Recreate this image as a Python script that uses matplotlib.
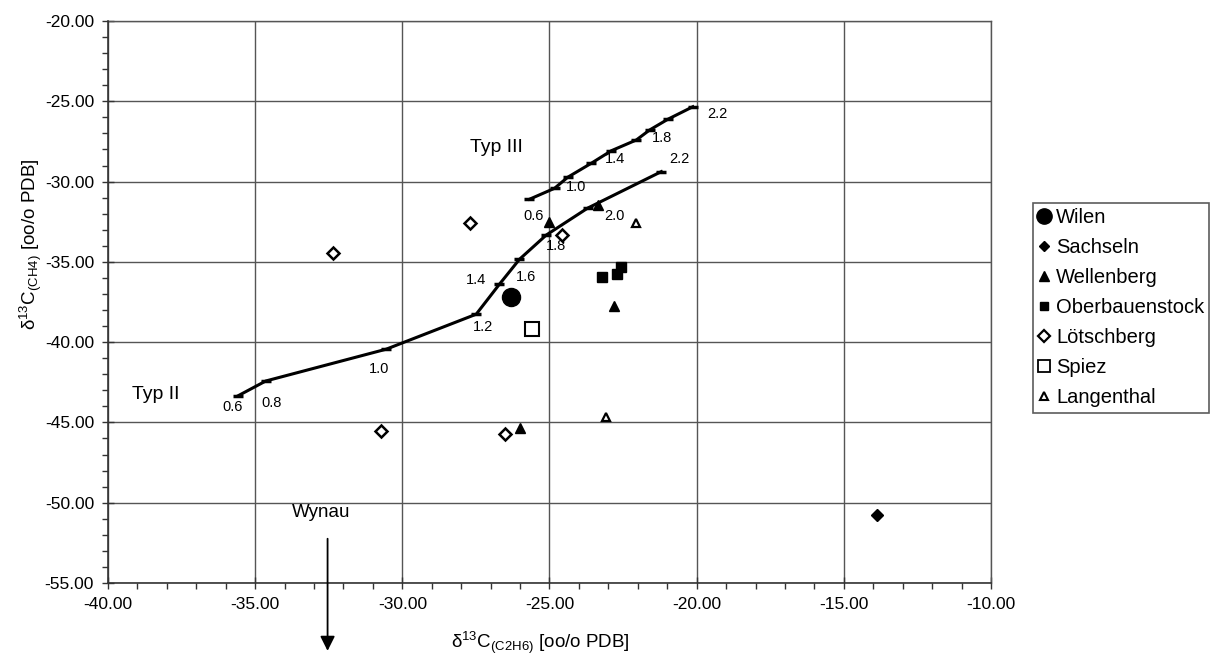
import matplotlib
matplotlib.use("Agg")
import matplotlib.pyplot as plt
from matplotlib.lines import Line2D

plt.rcParams['font.family'] = ['Liberation Sans', 'DejaVu Sans']
plt.rcParams['mathtext.fontset'] = 'custom'
plt.rcParams['mathtext.rm'] = 'Liberation Sans'
plt.rcParams['mathtext.it'] = 'Liberation Sans:italic'
plt.rcParams['mathtext.bf'] = 'Liberation Sans:bold'

# ---- data ----
# Typ III maturity curve (upper)
typ3_x = [-25.68, -24.83, -24.38, -23.58, -22.90, -22.05, -21.60, -20.98, -20.13]
typ3_y = [-31.10, -30.42, -29.73, -28.86, -28.08, -27.41, -26.79, -26.12, -25.34]
typ3_lbl = ['0.6', '', '1.0', '', '1.4', '', '1.8', '', '2.2']
# Typ II maturity curve (lower)
typ2_x = [-35.57, -34.64, -30.55, -27.49, -26.70, -26.02, -25.11, -23.70, -21.20]
typ2_y = [-43.33, -42.42, -40.44, -38.26, -36.39, -34.84, -33.33, -31.65, -29.38]
typ2_lbl = ['0.6', '0.8', '1.0', '1.2', '1.4', '1.6', '1.8', '2.0', '2.2']

wilen_x = [-26.3]; wilen_y = [-37.2]
sachseln_x = [-13.87]; sachseln_y = [-50.76]
wellenberg_x = [-26.0, -25.0, -22.8, -23.36]
wellenberg_y = [-45.36, -32.53, -37.75, -31.46]
oberbauen_x = [-23.21, -22.70, -22.56]
oberbauen_y = [-35.92, -35.75, -35.34]
loetsch_x = [-27.69, -24.58, -32.34, -30.71, -26.50]
loetsch_y = [-32.56, -33.32, -34.43, -45.53, -45.73]
spiez_x = [-25.60]; spiez_y = [-39.2]
langenthal_x = [-22.05, -23.07]
langenthal_y = [-32.58, -44.68]

W, H = 1212, 657
fig = plt.figure(figsize=(W / 100, H / 100), dpi=100)
ax = fig.add_axes([108 / W, 1 - 583 / H, (991 - 108) / W, (583 - 21) / H])

ax.set_xlim(-40, -10)
ax.set_ylim(-55, -20)
ax.set_xticks(range(-40, -9, 5))
ax.set_yticks(range(-55, -19, 5))
ax.set_xticks(range(-40, -9, 1), minor=True)
ax.set_yticks(range(-55, -19, 1), minor=True)
ax.set_xticklabels([f'{v:.2f}' for v in range(-40, -9, 5)])
ax.set_yticklabels([f'{v:.2f}' for v in range(-55, -19, 5)])
ax.tick_params(which='major', direction='inout', length=8, width=1, labelsize=12.5, color='#333333', pad=6)
ax.tick_params(which='minor', direction='out', length=4, width=1, color='#333333')
ax.grid(True, which='major', color='#555555', linewidth=1.0)
for s in ['top', 'right']:
    ax.spines[s].set_visible(False)
for s in ['left', 'bottom']:
    ax.spines[s].set_color('#333333')
    ax.spines[s].set_linewidth(1.2)

# gridlines at the upper / right edges
ax.axhline(-20, color='#555555', lw=1.0, clip_on=False)
ax.axvline(-10, color='#555555', lw=1.0, clip_on=False)

# curves
ax.plot(typ3_x, typ3_y, color='black', lw=2.2, marker='_', ms=7, mew=2.5, zorder=3)
ax.plot(typ2_x, typ2_y, color='black', lw=2.2, marker='_', ms=7, mew=2.5, zorder=3)

off3 = {'0.6': (3, -12), '1.0': (6, -7), '1.4': (3, -6), '1.8': (9, -6), '2.2': (18, -5)}
for x, y, t in zip(typ3_x, typ3_y, typ3_lbl):
    if t:
        dx, dy = off3[t]
        ax.annotate(t, (x, y), xytext=(dx, dy), textcoords='offset points',
                    ha='center', va='center', fontsize=10.5)
off2 = {'0.6': (-4, -8), '0.8': (4, -16), '1.0': (-5, -14), '1.2': (5, -9),
        '1.4': (-17, 3), '1.6': (5, -13), '1.8': (7, -8), '2.0': (19, -6), '2.2': (13, 9)}
for x, y, t in zip(typ2_x, typ2_y, typ2_lbl):
    dx, dy = off2[t]
    ax.annotate(t, (x, y), xytext=(dx, dy), textcoords='offset points',
                ha='center', va='center', fontsize=10.5)

ax.text(-38.38, -43.29, 'Typ II', fontsize=14, ha='center', va='center')
ax.text(-26.81, -27.86, 'Typ III', fontsize=14, ha='center', va='center')
ax.text(-32.77, -50.62, 'Wynau', fontsize=13.5, ha='center', va='center')
ax.annotate('', xy=(-32.54, -59.4), xytext=(-32.54, -52.07),
            arrowprops=dict(arrowstyle='-|>', color='black', lw=1.3, mutation_scale=22),
            annotation_clip=False)

# points
h_wilen, = ax.plot(wilen_x, wilen_y, 'o', color='black', ms=13, ls='none', zorder=4)
h_sach, = ax.plot(sachseln_x, sachseln_y, 'D', color='black', ms=6, ls='none', zorder=4)
h_well, = ax.plot(wellenberg_x, wellenberg_y, '^', color='black', ms=7, ls='none', zorder=4)
h_ober, = ax.plot(oberbauen_x, oberbauen_y, 's', color='black', ms=6.5, ls='none', zorder=4)
h_loet, = ax.plot(loetsch_x, loetsch_y, 'D', mfc='white', mec='black', mew=1.8, ms=6.5, ls='none', zorder=4)
h_spiez, = ax.plot(spiez_x, spiez_y, 's', mfc='white', mec='black', mew=1.5, ms=10, ls='none', zorder=4)
h_lang, = ax.plot(langenthal_x, langenthal_y, '^', mfc='white', mec='black', mew=1.6, ms=6, ls='none', zorder=4)

handles = [
    Line2D([], [], marker='o', color='black', ls='none', ms=11),
    Line2D([], [], marker='D', color='black', ls='none', ms=5),
    Line2D([], [], marker='^', color='black', ls='none', ms=7),
    Line2D([], [], marker='s', color='black', ls='none', ms=6),
    Line2D([], [], marker='D', mfc='white', mec='black', mew=1.6, ls='none', ms=6),
    Line2D([], [], marker='s', mfc='white', mec='black', mew=1.3, ls='none', ms=9),
    Line2D([], [], marker='^', mfc='white', mec='black', mew=1.5, ls='none', ms=6),
]
labels = ['Wilen', 'Sachseln', 'Wellenberg', 'Oberbauenstock', 'Lötschberg', 'Spiez', 'Langenthal']
leg = fig.legend(handles, labels, loc='upper left', bbox_to_anchor=(1033 / W, 1 - 203 / H),
                 fontsize=14.5, frameon=True, fancybox=False, edgecolor='#333333',
                 handlelength=0.6, handletextpad=0.3, borderpad=0.25, labelspacing=0.55,
                 borderaxespad=0)
leg.get_frame().set_linewidth(1.2)

fig.text(540 / W, 1 - 643 / H, r'δ$^{13}$C$_{\mathrm{(C2H6)}}$ [oo/o PDB]', fontsize=13.5,
         ha='center', va='center')
fig.text(31 / W, 1 - 244 / H, r'δ$^{13}$C$_{\mathrm{(CH4)}}$ [oo/o PDB]', fontsize=13.5,
         ha='center', va='center', rotation=90)

fig.savefig('out.png', dpi=100)
